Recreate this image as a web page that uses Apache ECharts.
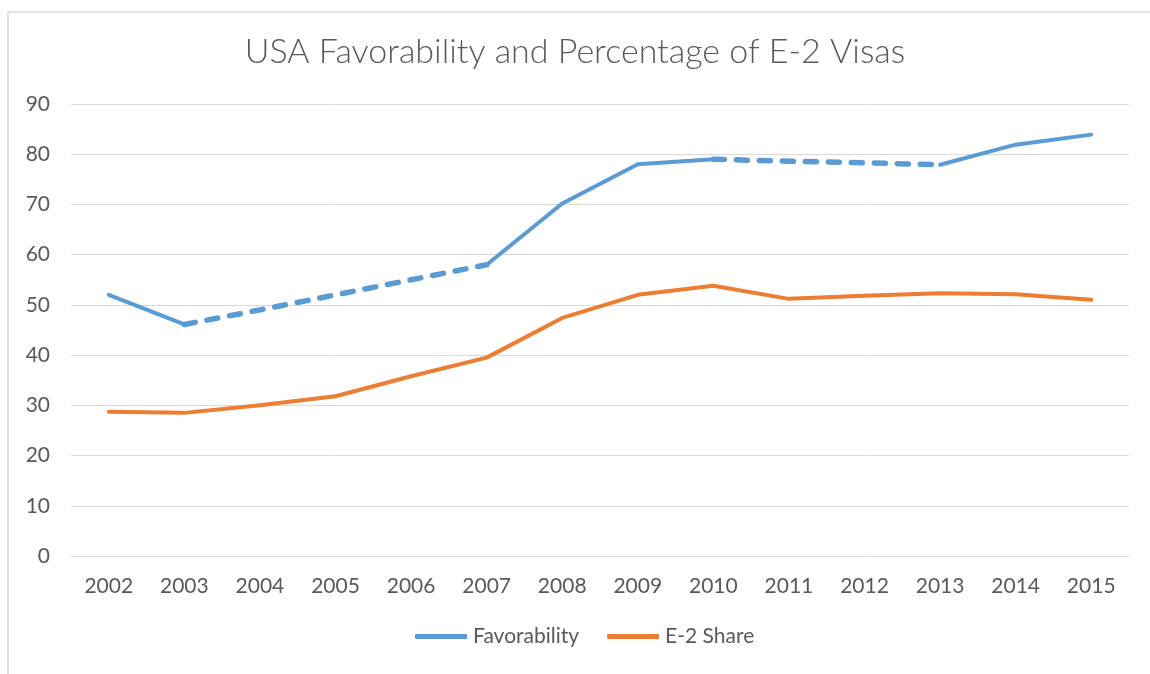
<!DOCTYPE html>
<html>
<head>
<meta charset="utf-8">
<script src="https://cdn.jsdelivr.net/npm/echarts@6/dist/echarts.min.js"></script>
<style>html,body{margin:0;padding:0;background:#fff;}#c{width:1150px;height:674px;}</style>
</head>
<body>
<div id="c"></div>
<script>
const years = ['2002','2003','2004','2005','2006','2007','2008','2009','2010','2011','2012','2013','2014','2015'];
const favorability = [52.0, 46.1, 49.0, 52.0, 55.0, 58.0, 70.2, 78.0, 79.0, 78.6, 78.3, 77.9, 81.9, 83.9];
const e2Share = [28.7, 28.5, 30.0, 31.8, 35.8, 39.5, 47.4, 52.0, 53.8, 51.2, 51.8, 52.3, 52.1, 51.0];
// index ranges of Favorability drawn dashed (estimated/interpolated in the source)
const dashedRanges = [[1, 5], [8, 11]];
const solidRanges = [[0, 1], [5, 8], [11, 13]];
const yTicks = [0, 10, 20, 30, 40, 50, 60, 70, 80, 90];

const BLUE = '#5B9BD5', ORANGE = '#ED7D31', TXT = '#595959', GRID = '#D9D9D9';
const FONT = 'Lato, "Open Sans", sans-serif';

function mask(arr, r) { return arr.map((v, i) => (i >= r[0] && i <= r[1]) ? v : null); }

const series = [];
solidRanges.forEach(r => series.push({
  name: 'Favorability', type: 'line', data: mask(favorability, r), symbol: 'none',
  lineStyle: { color: BLUE, width: 4, cap: 'round', join: 'round' }, itemStyle: { color: BLUE }, z: 3
}));
dashedRanges.forEach(r => series.push({
  name: 'Favorability', type: 'line', data: mask(favorability, r), symbol: 'none',
  lineStyle: { color: BLUE, width: 5.5, type: [11, 12], cap: 'round', join: 'round' }, itemStyle: { color: BLUE }, z: 3
}));
series.push({
  name: 'E-2 Share', type: 'line', data: e2Share, symbol: 'none',
  lineStyle: { color: ORANGE, width: 4, cap: 'round', join: 'round' }, itemStyle: { color: ORANGE }, z: 2
});

const chart = echarts.init(document.getElementById('c'), null, { renderer: 'canvas' });
chart.setOption({
  animation: false,
  backgroundColor: '#fff',
  title: {
    text: 'USA Favorability and Percentage of E-2 Visas',
    left: 'center', top: 30,
    textStyle: { fontFamily: FONT, fontSize: 34, fontWeight: 300, color: TXT }
  },
  graphic: [{
    type: 'rect', shape: { x: 8, y: 12, width: 1200, height: 700 },
    style: { fill: 'none', stroke: GRID, lineWidth: 1.5 }, silent: true, z: -1
  }],
  legend: {
    data: [
      { name: 'Favorability', icon: 'roundRect', itemStyle: { color: BLUE } },
      { name: 'E-2 Share', icon: 'roundRect', itemStyle: { color: ORANGE } }
    ],
    bottom: 22, left: 410,
    itemWidth: 52, itemHeight: 5, itemGap: 28,
    textStyle: { fontFamily: FONT, fontSize: 21, color: TXT, padding: [0, 0, 0, 1] }
  },
  grid: { left: 71, right: 21, top: 104, bottom: 118, containLabel: false },
  xAxis: {
    type: 'category', data: years, boundaryGap: true,
    axisLine: { show: true, lineStyle: { color: GRID, width: 1 } },
    axisTick: { show: false },
    axisLabel: { fontFamily: FONT, fontSize: 21, color: TXT, margin: 20 }
  },
  yAxis: {
    type: 'value', min: 0, max: 90, interval: 10,
    axisLine: { show: false }, axisTick: { show: false },
    axisLabel: { fontFamily: FONT, fontSize: 21, color: TXT, margin: 21,
      formatter: v => yTicks.includes(v) ? String(v) : '' },
    splitLine: { lineStyle: { color: GRID, width: 1 } }
  },
  series: series
});
</script>
</body>
</html>
